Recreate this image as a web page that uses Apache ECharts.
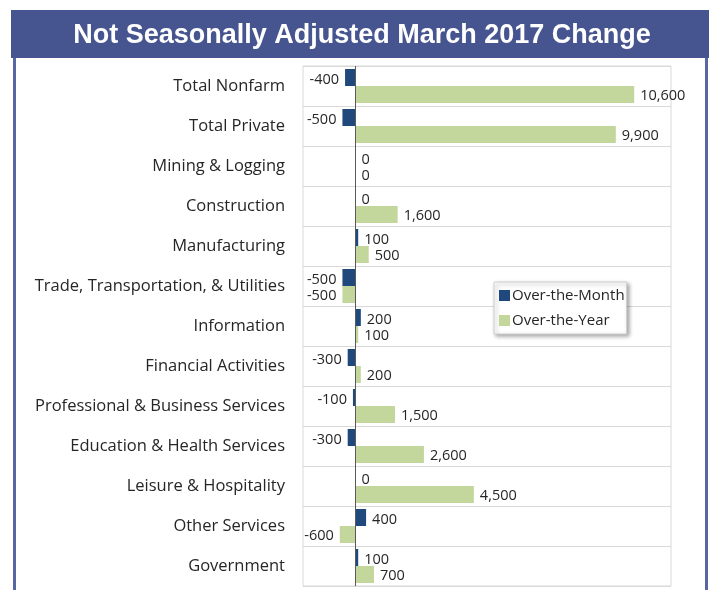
<!DOCTYPE html>
<html><head><meta charset="utf-8">
<script src="https://cdn.jsdelivr.net/npm/echarts@6/dist/echarts.min.js"></script>
<style>html,body{margin:0;padding:0;background:#fff}#c{width:710px;height:590px}</style>
</head><body><div id="c"></div>
<script>
var categories = ["Total Nonfarm","Total Private","Mining & Logging","Construction","Manufacturing","Trade, Transportation, & Utilities","Information","Financial Activities","Professional & Business Services","Education & Health Services","Leisure & Hospitality","Other Services","Government"];
var overMonth = [-400,-500,0,0,100,-500,200,-300,-100,-300,0,400,100];
var overYear = [10600,9900,0,1600,500,-500,100,200,1500,2600,4500,-600,700];
var seriesNames = ["Over-the-Month","Over-the-Year"];
var titleText = "Not Seasonally Adjusted March 2017 Change";

function fmt(v){ return v.toLocaleString('en-US'); }
function mk(arr){
  return arr.map(function(v){
    return {value:v, label:{position: v<0 ? 'left' : 'right'}};
  });
}
var chart = echarts.init(document.getElementById('c'));
function lbl(dy){ return {show:true, distance:6, offset:[0,dy], color:'#262626', fontFamily:'Open Sans', fontSize:14.5,
  formatter:function(p){return fmt(p.value);}}; }
chart.setOption({
  animation:false,
  graphic:[
    {type:'rect', shape:{x:11,y:10,width:698,height:48}, style:{fill:'#46558f'}, z:0},
    {type:'rect', shape:{x:13,y:58,width:3,height:540}, style:{fill:'#5866a4'}},
    {type:'rect', shape:{x:705,y:58,width:3,height:540}, style:{fill:'#5866a4'}},
    {type:'text', x:362, y:36,
      style:{text:titleText, fill:'#fff', font:'bold 27px "Liberation Sans", Arial, sans-serif', textAlign:'center', textVerticalAlign:'middle'}}
  ],
  legend:{
    orient:'vertical', left:494, top:282, data:seriesNames,
    itemWidth:11, itemHeight:11, itemGap:10, icon:'rect',
    padding:[6,2,6,5], backgroundColor:'#fff', borderColor:'#d0d0d0', borderWidth:1,
    shadowBlur:4, shadowColor:'rgba(0,0,0,0.35)', shadowOffsetX:2, shadowOffsetY:2,
    textStyle:{fontFamily:'Open Sans', fontSize:15, color:'#262626', padding:[0,0,0,-3]}
  },
  grid:{left:303, right:39, top:66, bottom:4, show:true, borderColor:'#d9d9d9', borderWidth:1},
  xAxis:{type:'value', min:-2000, max:12000, show:false, splitLine:{show:false}},
  yAxis:{type:'category', data:categories, inverse:true,
    axisLine:{show:false, onZero:false}, axisTick:{show:false},
    splitLine:{show:true, lineStyle:{color:'#d9d9d9', width:1}},
    axisLabel:{margin:18, color:'#262626', fontFamily:'Open Sans', fontSize:16.5}},
  series:[
    {name:seriesNames[0], type:'bar', data:mk(overMonth), barWidth:17, barGap:'0%',
      itemStyle:{color:'#1f497d'}, label:lbl(2),
      markLine:{silent:true, symbol:'none', label:{show:false},
        lineStyle:{color:'#595959', width:1, type:'solid'}, data:[{xAxis:0}]}},
    {name:seriesNames[1], type:'bar', data:mk(overYear), barWidth:17, barGap:'0%',
      itemStyle:{color:'#c3d69b'}, label:lbl(1)}
  ]
});
</script></body></html>
